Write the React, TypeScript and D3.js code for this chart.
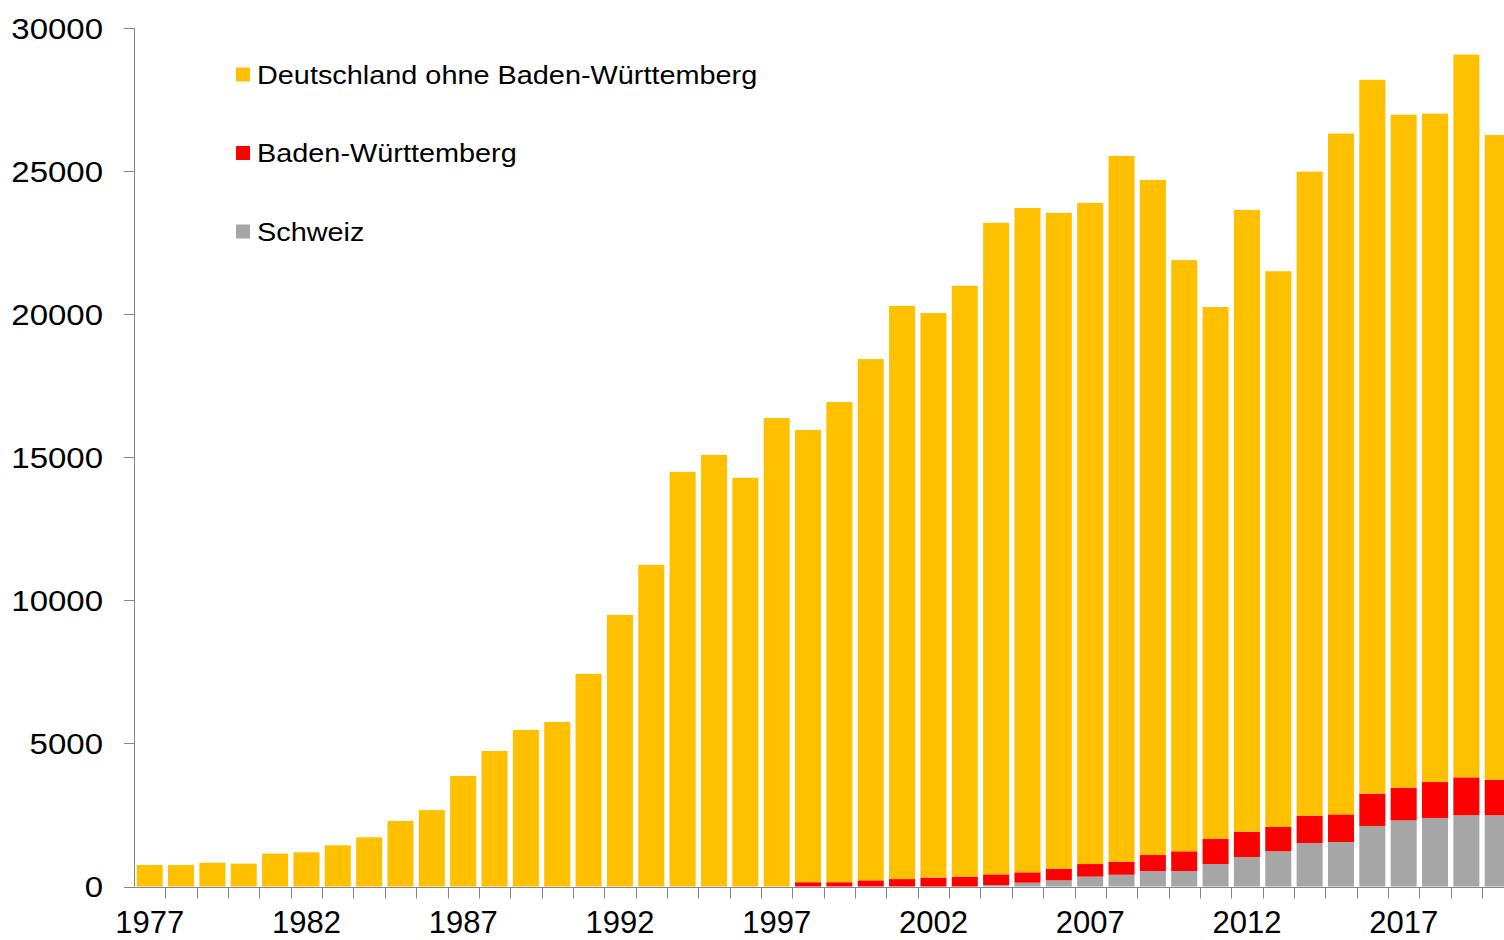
import React, { useEffect, useRef } from 'react';
import * as d3 from 'd3';

const years = d3.range(1977, 2021).map(String);

const deutschland = [
    750, 750, 830, 800, 1150, 1195, 1440, 1720, 2290, 2670,
    3860, 4735, 5470, 5750, 7430, 9490, 11240, 14490, 15080, 14280,
    16370, 15800, 16780, 18215, 20030, 19730, 20645, 22765, 23215, 22920,
    23105, 24665, 23590, 20660, 18580, 21725, 19420, 22505, 23790, 24945,
    23515, 23360, 25255, 22530,
];

const badenWuerttemberg = [
    0, 0, 0, 0, 0, 0, 0, 0, 0, 0,
    0, 0, 0, 0, 0, 0, 0, 0, 0, 0,
    0, 150, 150, 215, 260, 310, 345, 375, 360, 405,
    440, 455, 560, 690, 885, 885, 850, 955, 965, 1130,
    1145, 1255, 1325, 1240,
];

const schweiz = [
    0, 0, 0, 0, 0, 0, 0, 0, 0, 0,
    0, 0, 0, 0, 0, 0, 0, 0, 0, 0,
    0, 0, 0, 0, 0, 0, 0, 50, 135, 215,
    345, 410, 540, 540, 785, 1030, 1230, 1520, 1555, 2115,
    2310, 2395, 2490, 2490,
];

const yTicks = [0, 5000, 10000, 15000, 20000, 25000, 30000];
const xLabels = ['1977', '1982', '1987', '1992', '1997', '2002', '2007', '2012', '2017'];

const seriesKeys = ['schweiz', 'bw', 'de'];
const seriesColors = { schweiz: '#A6A6A6', bw: '#FF0000', de: '#FFC000' };
const legendItems = [
    { key: 'de', label: 'Deutschland ohne Baden-Württemberg' },
    { key: 'bw', label: 'Baden-Württemberg' },
    { key: 'schweiz', label: 'Schweiz' },
];

const W = 1504;
const H = 940;

export default function App() {
    const svgRef = useRef<SVGSVGElement>(null);

    useEffect(() => {
        const svg = d3.select(svgRef.current);
        svg.selectAll('*').remove();

        const rows = years.map((y, i) => ({
            year: y,
            schweiz: schweiz[i],
            bw: badenWuerttemberg[i],
            de: deutschland[i],
        }));

        const left = 134;
        const step = 31.35;
        const x = d3.scaleBand()
            .domain(years)
            .range([left, left + step * years.length])
            .paddingInner(0.17)
            .paddingOuter(0.085);

        const y = d3.scaleLinear().domain([0, 30000]).range([886.5, 28]);

        const stack = d3.stack().keys(seriesKeys);
        const layers = stack(rows as any);

        const font = '"Liberation Sans", Arial, sans-serif';

        // bars
        layers.forEach(layer => {
            svg.append('g')
                .selectAll('rect')
                .data(layer)
                .enter()
                .append('rect')
                .attr('x', (d: any) => x(d.data.year)!)
                .attr('width', x.bandwidth())
                .attr('y', d => y(d[1]))
                .attr('height', d => Math.max(0, y(d[0]) - y(d[1])))
                .attr('fill', seriesColors[layer.key]);
        });

        const axisColor = '#868686';

        // y axis
        svg.append('line')
            .attr('x1', left + 0.5).attr('x2', left + 0.5)
            .attr('y1', y(30000)).attr('y2', y(0))
            .attr('stroke', axisColor);

        yTicks.forEach(t => {
            svg.append('line')
                .attr('x1', left - 10).attr('x2', left)
                .attr('y1', Math.round(y(t)) + 0.5).attr('y2', Math.round(y(t)) + 0.5)
                .attr('stroke', axisColor);
            // labels in the picture are a little wider than the font
            svg.append('text')
                .attr('transform', `translate(103,${y(t) + 10.5}) scale(1.1,1)`)
                .attr('text-anchor', 'end')
                .attr('font-family', font)
                .attr('font-size', 30)
                .attr('fill', '#000')
                .text(String(t));
        });

        // x axis
        const x0 = Math.round(y(0)) + 0.5;
        svg.append('line')
            .attr('x1', left).attr('x2', W)
            .attr('y1', x0).attr('y2', x0)
            .attr('stroke', axisColor);

        d3.range(1, years.length + 1).forEach(i => {
            const bx = Math.round(left + i * x.step()) + 0.5;
            svg.append('line')
                .attr('x1', bx).attr('x2', bx)
                .attr('y1', x0).attr('y2', x0 + 11)
                .attr('stroke', axisColor);
        });

        xLabels.forEach(l => {
            svg.append('text')
                .attr('x', x(l)! + x.bandwidth() / 2)
                .attr('y', 933)
                .attr('text-anchor', 'middle')
                .attr('font-family', font)
                .attr('font-size', 31)
                .attr('fill', '#000')
                .text(l);
        });

        // legend
        const legendY = [74.5, 153, 231.5];
        legendItems.forEach((item, i) => {
            svg.append('rect')
                .attr('x', 236).attr('y', legendY[i] - 7)
                .attr('width', 14).attr('height', 14)
                .attr('fill', seriesColors[item.key]);
            svg.append('text')
                .attr('transform', `translate(257,${legendY[i] + 9.3}) scale(1.11,1)`)
                .attr('font-family', font)
                .attr('font-size', 26)
                .attr('fill', '#000')
                .text(item.label);
        });
    }, []);

    return (
        <svg
            ref={svgRef}
            width={W}
            height={H}
            style={{ position: 'absolute', left: 0, top: 0, background: '#fff' }}
        />
    );
}
